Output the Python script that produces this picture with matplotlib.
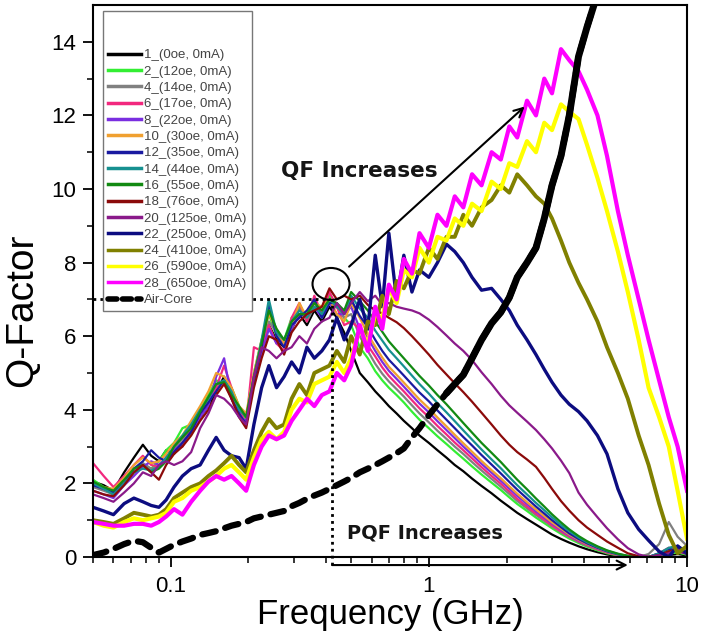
import numpy as np
import matplotlib
matplotlib.use('Agg')
import matplotlib.pyplot as plt
from matplotlib.patches import Ellipse
from matplotlib.lines import Line2D

plt.rcParams['font.family'] = ['Liberation Sans', 'DejaVu Sans']

# frequency grid (GHz): noisy low band + high band
freq_lo = [0.050, 0.055, 0.060, 0.066, 0.072, 0.078, 0.084, 0.090, 0.096, 0.103,
           0.111, 0.120, 0.130, 0.140, 0.150, 0.161, 0.172, 0.184, 0.196, 0.210,
           0.225, 0.240, 0.257, 0.275, 0.294, 0.315, 0.337, 0.360, 0.385, 0.412,
           0.440, 0.470]
freq_hi = [0.50, 0.54, 0.58, 0.62, 0.66, 0.70, 0.75, 0.80, 0.86, 0.92,
           1.00, 1.08, 1.17, 1.26, 1.36, 1.47, 1.60, 1.75, 1.90, 2.05,
           2.20, 2.40, 2.60, 2.80, 3.00, 3.25, 3.50, 3.80, 4.10, 4.50,
           4.90, 5.40, 5.90, 6.50, 7.10, 7.80, 8.50, 9.20, 10.0]

labels = ['1_(0oe, 0mA)', '2_(12oe, 0mA)', '4_(14oe, 0mA)', '6_(17oe, 0mA)',
          '8_(22oe, 0mA)', '10_(30oe, 0mA)', '12_(35oe, 0mA)', '14_(44oe, 0mA)',
          '16_(55oe, 0mA)', '18_(76oe, 0mA)', '20_(125oe, 0mA)', '22_(250oe, 0mA)',
          '24_(410oe, 0mA)', '26_(590oe, 0mA)', '28_(650oe, 0mA)']
colors = ['#000000', '#33ee33', '#808080', '#f2287e', '#7a2ee0', '#f0a030',
          '#1a1aa0', '#169090', '#128a12', '#8b0a0a', '#8a1a8a', '#0c0c80',
          '#808000', '#ffff00', '#ff00ff']

q01 = [2.05, 1.95, 1.8, 2.3, 2.7, 3.05, 2.75, 2.6, 2.9, 2.8, 3.1, 3.4, 3.8, 4.1, 4.5, 4.9, 4.4, 3.9, 3.8, 4.8, 5.6, 6.3, 5.9, 5.7, 6.2, 6.6, 6.3, 6.7, 6.4, 6.8, 6.5, 6.1,
       5.6, 5.0, 4.75, 4.5, 4.3, 4.1, 3.9, 3.7, 3.5, 3.3, 3.1, 2.9, 2.7, 2.5, 2.33, 2.13, 1.93, 1.73, 1.53, 1.36, 1.2, 1.03, 0.88, 0.74, 0.61, 0.49, 0.39, 0.29, 0.21, 0.13, 0.07, 0.02, 0.0, 0.0, 0.0, 0.02, 0.05, 0.08, 0.04]
q02 = [2.1, 1.9, 1.7, 2.0, 2.3, 2.5, 2.4, 2.6, 2.9, 3.1, 3.5, 3.6, 4.0, 4.4, 4.8, 4.7, 4.6, 4.1, 3.7, 5.0, 5.9, 6.6, 6.0, 5.9, 6.5, 6.7, 6.6, 7.0, 6.5, 7.1, 6.8, 6.5,
       6.3, 5.7, 5.4, 5.05, 4.8, 4.6, 4.4, 4.2, 3.95, 3.73, 3.5, 3.28, 3.07, 2.87, 2.67, 2.46, 2.24, 2.02, 1.82, 1.62, 1.44, 1.25, 1.07, 0.92, 0.78, 0.63, 0.5, 0.38, 0.28, 0.18, 0.1, 0.04, 0.01, 0.0, 0.0, 0.04, 0.1, 0.12, 0.06]
q04 = [1.9, 1.8, 1.7, 2.1, 2.3, 2.55, 2.4, 2.45, 2.7, 2.95, 3.2, 3.5, 3.9, 4.3, 4.6, 4.8, 4.4, 3.95, 3.8, 4.9, 5.7, 6.4, 6.1, 5.8, 6.3, 6.8, 6.4, 6.8, 6.7, 6.9, 6.8, 6.5,
       6.6, 6.0, 5.6, 5.25, 4.98, 4.77, 4.56, 4.36, 4.12, 3.9, 3.66, 3.43, 3.21, 3.0, 2.8, 2.58, 2.35, 2.12, 1.91, 1.71, 1.52, 1.32, 1.14, 0.98, 0.83, 0.67, 0.54, 0.41, 0.31, 0.21, 0.12, 0.05, 0.02, 0.0, 0.08, 0.35, 0.95, 0.55, 0.3]
q06 = [2.55, 2.2, 1.9, 2.2, 2.5, 2.75, 2.5, 2.45, 2.7, 2.9, 3.0, 3.5, 3.9, 4.2, 4.6, 5.2, 4.6, 4.0, 3.6, 5.7, 5.6, 6.3, 5.8, 5.6, 6.5, 6.9, 6.4, 7.1, 6.6, 7.2, 6.8, 6.3,
       6.4, 6.2, 5.75, 5.45, 5.15, 4.92, 4.7, 4.5, 4.26, 4.04, 3.8, 3.56, 3.33, 3.11, 2.9, 2.68, 2.44, 2.2, 1.99, 1.78, 1.58, 1.37, 1.18, 1.02, 0.86, 0.7, 0.56, 0.43, 0.32, 0.21, 0.12, 0.05, 0.01, 0.0, 0.0, 0.1, 0.25, 0.15, 0.08]
q08 = [1.8, 1.7, 1.6, 1.95, 2.2, 2.45, 2.6, 2.5, 2.7, 2.9, 3.1, 3.4, 3.8, 4.1, 4.9, 5.4, 4.3, 3.8, 3.7, 4.7, 5.5, 6.2, 5.8, 5.9, 6.2, 6.6, 6.6, 6.8, 6.5, 6.9, 6.6, 6.6,
       6.8, 6.2, 5.95, 5.6, 5.3, 5.06, 4.84, 4.63, 4.39, 4.17, 3.93, 3.69, 3.45, 3.23, 3.0, 2.78, 2.53, 2.29, 2.07, 1.86, 1.66, 1.44, 1.24, 1.07, 0.91, 0.74, 0.59, 0.45, 0.34, 0.23, 0.14, 0.06, 0.02, 0.0, 0.0, 0.08, 0.2, 0.25, 0.1]
q10 = [2.0, 1.9, 1.85, 2.15, 2.5, 2.7, 2.55, 2.6, 2.8, 3.1, 3.3, 3.7, 4.1, 4.5, 5.0, 4.9, 4.6, 4.1, 3.9, 5.0, 5.9, 6.6, 6.2, 5.8, 6.3, 6.9, 6.5, 6.9, 6.8, 7.0, 6.6, 6.4,
       6.9, 6.5, 6.05, 5.72, 5.42, 5.17, 4.95, 4.74, 4.5, 4.28, 4.04, 3.79, 3.55, 3.32, 3.09, 2.86, 2.61, 2.36, 2.14, 1.92, 1.72, 1.49, 1.29, 1.11, 0.94, 0.77, 0.61, 0.47, 0.35, 0.24, 0.14, 0.06, 0.02, 0.0, 0.0, 0.05, 0.18, 0.28, 0.15]
q12 = [1.95, 1.85, 1.75, 2.0, 2.4, 2.6, 2.9, 2.7, 2.6, 2.85, 3.1, 3.4, 3.9, 4.2, 4.5, 4.8, 4.3, 3.9, 3.6, 4.8, 5.7, 6.9, 6.0, 5.7, 6.3, 6.5, 6.7, 7.0, 6.5, 6.9, 6.9, 6.6,
       7.0, 6.55, 6.25, 5.9, 5.6, 5.36, 5.14, 4.93, 4.69, 4.47, 4.23, 3.98, 3.73, 3.5, 3.26, 3.03, 2.77, 2.51, 2.27, 2.04, 1.83, 1.59, 1.37, 1.18, 1.0, 0.81, 0.64, 0.49, 0.37, 0.25, 0.15, 0.07, 0.02, 0.0, 0.0, 0.1, 0.22, 0.18, 0.08]
q14 = [2.0, 1.85, 1.7, 2.0, 2.3, 2.4, 2.35, 2.45, 2.7, 3.0, 3.3, 3.6, 4.0, 4.3, 4.7, 4.8, 4.5, 4.0, 3.8, 4.9, 5.9, 7.0, 6.1, 5.9, 6.4, 6.7, 6.5, 6.8, 6.6, 7.0, 6.8, 6.6,
       7.1, 6.75, 6.5, 6.15, 5.88, 5.63, 5.4, 5.18, 4.93, 4.7, 4.44, 4.18, 3.93, 3.69, 3.44, 3.19, 2.92, 2.65, 2.41, 2.17, 1.95, 1.7, 1.47, 1.27, 1.08, 0.87, 0.7, 0.53, 0.4, 0.27, 0.17, 0.08, 0.03, 0.0, 0.0, 0.1, 0.25, 0.3, 0.15]
q16 = [2.05, 1.9, 1.8, 2.1, 2.4, 2.5, 2.3, 2.4, 2.6, 3.0, 3.25, 3.5, 3.95, 4.35, 4.7, 4.75, 4.4, 4.1, 3.8, 4.9, 5.8, 6.7, 6.2, 5.9, 6.4, 6.6, 6.6, 6.9, 6.7, 7.0, 6.9, 6.7,
       7.2, 6.95, 6.7, 6.4, 6.12, 5.86, 5.62, 5.4, 5.15, 4.92, 4.66, 4.4, 4.15, 3.9, 3.64, 3.38, 3.1, 2.83, 2.58, 2.33, 2.1, 1.84, 1.59, 1.37, 1.16, 0.94, 0.75, 0.57, 0.43, 0.29, 0.18, 0.09, 0.03, 0.0, 0.0, 0.05, 0.15, 0.2, 0.12]
q18 = [1.8, 1.7, 1.65, 1.95, 2.3, 2.5, 2.3, 2.1, 2.5, 2.8, 3.0, 3.3, 3.7, 4.0, 4.4, 4.7, 4.3, 3.8, 3.5, 4.6, 5.4, 6.0, 5.9, 5.5, 6.1, 6.4, 6.6, 6.7, 6.8, 7.3, 7.0, 7.1,
       7.0, 7.1, 6.85, 6.7, 6.62, 6.5, 6.38, 6.22, 6.0, 5.78, 5.5, 5.22, 4.96, 4.72, 4.48, 4.22, 3.92, 3.6, 3.3, 3.05, 2.85, 2.65, 2.45, 2.15, 1.85, 1.52, 1.26, 1.0, 0.8, 0.6, 0.42, 0.25, 0.1, 0.02, 0.0, 0.05, 0.15, 0.2, 0.1]
q20 = [1.7, 1.6, 1.5, 1.75, 2.0, 2.3, 2.2, 2.5, 2.6, 2.5, 2.6, 2.85, 3.5, 3.9, 4.4, 4.3, 4.1, 3.8, 3.6, 4.9, 5.7, 5.6, 5.4, 5.6, 5.7, 6.0, 5.8, 6.2, 6.4, 6.5, 6.9, 6.6,
       6.9, 7.2, 6.95, 7.1, 6.85, 6.9, 6.8, 6.75, 6.7, 6.62, 6.45, 6.25, 6.02, 5.8, 5.6, 5.35, 5.02, 4.7, 4.38, 4.12, 3.92, 3.68, 3.45, 3.2, 2.95, 2.62, 2.28, 1.75, 1.42, 1.08, 0.78, 0.48, 0.24, 0.07, 0.0, 0.05, 0.1, 0.2, 0.1]
q22 = [1.35, 1.25, 1.15, 1.45, 1.6, 1.5, 1.4, 1.35, 1.55, 1.9, 2.2, 2.4, 2.5, 2.9, 3.25, 2.9, 2.75, 2.7, 2.4, 3.6, 4.6, 5.2, 4.6, 4.9, 5.3, 5.0, 5.7, 5.4, 5.6, 5.9, 6.5, 5.9,
       6.3, 7.0, 6.2, 8.2, 6.8, 8.8, 7.0, 8.2, 7.2, 7.8, 7.6, 8.0, 8.5, 8.3, 8.0, 7.6, 7.25, 7.3, 7.0, 6.7, 6.3, 5.9, 5.5, 5.1, 4.75, 4.4, 4.15, 3.95, 3.7, 3.3, 2.8, 1.85, 1.2, 0.75, 0.45, 0.15, 0.0, 0.3, 0.1]
q24 = [1.0, 0.95, 0.9, 1.05, 1.2, 1.15, 1.1, 1.15, 1.3, 1.6, 1.75, 1.9, 2.0, 2.2, 2.35, 2.55, 2.75, 2.5, 2.3, 2.9, 3.4, 3.75, 3.5, 3.6, 4.3, 4.7, 4.4, 5.0, 5.1, 5.2, 5.6, 5.3,
       6.0, 5.5, 6.4, 6.3, 7.1, 6.6, 7.5, 7.3, 7.8, 7.7, 8.4, 8.1, 8.7, 8.7, 9.3, 9.0, 9.5, 9.7, 10.1, 9.9, 10.4, 10.1, 9.8, 9.6, 9.2, 8.6, 8.0, 7.45, 7.0, 6.4, 5.7, 5.0, 4.3, 3.3, 2.5, 1.45, 0.6, 0.1, 0.3]
q26 = [0.95, 0.85, 0.8, 0.95, 1.05, 1.0, 1.05, 1.1, 1.2, 1.5, 1.6, 1.8, 1.9, 2.05, 2.2, 2.4, 2.5, 2.3, 2.1, 2.7, 3.2, 3.4, 3.2, 3.4, 4.0, 4.3, 4.2, 4.7, 4.8, 4.9, 5.3, 5.0,
       5.4, 6.2, 5.8, 6.6, 6.5, 7.3, 6.9, 7.8, 7.6, 8.4, 8.0, 8.7, 8.6, 9.2, 9.0, 9.6, 9.4, 10.2, 10.0, 10.7, 10.6, 11.3, 11.0, 11.8, 11.6, 12.3, 12.1, 11.9, 11.2, 10.3, 9.4, 8.3, 7.2, 5.9, 4.6, 3.8, 3.0, 1.8, 0.5]
q28 = [0.95, 0.9, 0.85, 0.85, 0.9, 0.9, 0.85, 0.95, 1.1, 1.3, 1.15, 1.5, 1.8, 2.05, 2.2, 2.1, 2.2, 2.0, 1.8, 2.5, 3.0, 3.3, 3.2, 3.3, 3.7, 4.0, 4.3, 4.1, 4.4, 4.5, 5.0, 4.8,
       5.2, 6.3, 5.6, 6.8, 6.2, 7.4, 7.0, 8.1, 7.7, 8.8, 8.4, 9.3, 9.0, 9.8, 9.5, 10.4, 10.1, 11.0, 10.8, 11.7, 11.4, 12.4, 12.0, 13.0, 12.6, 13.8, 13.5, 13.2, 12.7, 12.0, 10.9, 9.4, 8.2, 7.0, 5.9, 4.8, 3.8, 3.0, 1.8]
nan = float('nan')
air_core = [0.05, 0.12, 0.22, 0.35, 0.44, 0.4, 0.25, 0.12, 0.22, 0.33, 0.42, 0.5, 0.6, 0.65, 0.7, 0.78, 0.85, 0.9, 0.95, 1.05, 1.1, 1.15, 1.2, 1.25, 1.38, 1.47, 1.58, 1.67, 1.75, 1.85, 1.95, 2.05,
            2.15, 2.3, 2.4, 2.5, 2.6, 2.7, 2.82, 2.95, 3.25, 3.5, 3.85, 4.15, 4.45, 4.7, 4.95, 5.4, 5.9, 6.35, 6.65, 7.05, 7.6, 8.0, 8.4, 9.2, 10.1, 10.9, 12.0, 13.6, 14.4, 15.3, nan, nan, nan, nan, nan, nan, nan, nan, nan]

curves = [q01, q02, q04, q06, q08, q10, q12, q14, q16, q18, q20, q22, q24, q26, q28]

freq = np.array(freq_lo + freq_hi)
for q, lab in zip(curves + [air_core], labels + ['Air-Core']):
    if len(q) != len(freq):
        raise ValueError(f'{lab}: {len(q)} values for {len(freq)} frequencies')

fig = plt.figure(figsize=(7.02, 6.34), dpi=100)
ax = fig.add_axes([0.1325, 0.1215, 0.8461, 0.8706])

widths = [1.6] * 11 + [2.4, 2.8, 3.0, 3.0]
lines = []
for q, c, lab, lw in zip(curves, colors, labels, widths):
    ln, = ax.plot(freq, q, color=c, lw=lw, label=lab)
    lines.append(ln)

# air core: dashed at low f, dense (solid) at high f
air = np.array(air_core)
ax.plot(freq, air, color='k', lw=4.5, dashes=(2.2, 1.6), dash_capstyle='round', zorder=4)
hi = freq >= 1.17
ax.plot(freq[hi], air[hi], color='k', lw=5, solid_capstyle='round', zorder=4)

# dotted guide lines
ax.plot([0.05, 0.415], [7, 7], color='k', lw=2, ls=(0, (1, 1.5)), zorder=3)
ax.plot([0.422, 0.422], [-0.22, 7], color='k', lw=2, ls=(0, (1, 1.5)), zorder=3, clip_on=False)

ax.add_patch(Ellipse((0.4007, 0.4946), 0.0623, 0.058, transform=ax.transAxes,
                     fill=False, ec='k', lw=1.5, zorder=6))

ax.annotate('', xy=(2.35, 12.24), xytext=(0.491, 7.89),
            arrowprops=dict(arrowstyle='->', color='k', lw=1.5, mutation_scale=16,
                            shrinkA=0, shrinkB=0))
ax.text(0.537, 10.48, 'QF Increases', fontsize=15.5, fontweight='bold', family='DejaVu Sans',
        ha='center', va='center', color='#151515')
ax.annotate('', xy=(5.9, -0.22), xytext=(0.422, -0.22), annotation_clip=False,
            arrowprops=dict(arrowstyle='->', color='k', lw=1.5, mutation_scale=16,
                            shrinkA=0, shrinkB=0, clip_on=False))
ax.text(0.969, 0.65, 'PQF Increases', fontsize=14, fontweight='bold', family='DejaVu Sans',
        ha='center', va='center', color='#151515')

ax.set_xscale('log')
ax.set_xlim(0.05, 10)
ax.set_ylim(0, 15)
ax.set_xticks([0.1, 1, 10])
ax.set_xticklabels(['0.1', '1', '10'])
ax.set_yticks([0, 2, 4, 6, 8, 10, 12, 14])
ax.set_yticks([1, 3, 5, 7, 9, 11, 13], minor=True)
ax.tick_params(which='major', direction='out', length=7, width=1.3, labelsize=16, pad=5)
ax.tick_params(which='minor', direction='out', length=4, width=1.1)
ax.tick_params(axis='x', which='major', pad=7)
for s in ax.spines.values():
    s.set_linewidth(1.5)

ax.set_xlabel('Frequency (GHz)', fontsize=25)
ax.set_ylabel('Q-Factor', fontsize=28)
ax.xaxis.set_label_coords(0.5, -0.074)
ax.yaxis.set_label_coords(-0.089, 0.447)

blank = Line2D([], [], alpha=0)
air_handle = Line2D([], [], color='k', lw=4, dashes=(1.6, 1.0), dash_capstyle='round')
leg = ax.legend([blank, blank] + lines + [air_handle], [' ', ' '] + labels + ['Air-Core'],
                loc='upper left', bbox_to_anchor=(0.0168, 0.989), fontsize=9.5,
                fancybox=False, edgecolor='#777777', framealpha=1,
                handlelength=2.5, handletextpad=0.2, labelspacing=0.31,
                borderpad=0.4, borderaxespad=0)
leg.get_frame().set_linewidth(1.0)
for t in leg.get_texts():
    t.set_color('#444444')
for h in leg.legend_handles[2:-1]:
    h.set_linewidth(2.5)

fig.savefig('out.png', dpi=100)
